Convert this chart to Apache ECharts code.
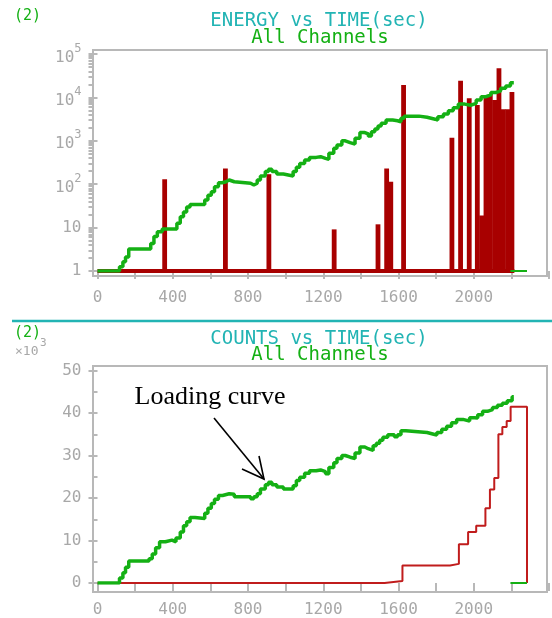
<!DOCTYPE html>
<html>
<head>
<meta charset="utf-8">
<script src="https://cdn.jsdelivr.net/npm/echarts@6/dist/echarts.min.js"></script>
<style>
html,body{margin:0;padding:0;background:#fff;}
#chart{width:552px;height:618px;}
</style>
</head>
<body>
<div id="chart"></div>
<script>
// energy plot: green curve (time, value), log scale
var energyLine = [[0,1],[117,1.26],[135,1.64],[149,2.1],[166,3.2],[283,4.3],[300,6.2],[318,8],[344,9.3],
	[422,12.6],[440,17.8],[457,23],[474,30],[492,34],[570,43],[587,56],[605,67],[622,87],[643,108],[662,114],
	[683,125],[700,114],[727,105],[814,96],[831,105],[849,125],[866,155],[892,195],[909,220],[927,195],
	[953,172],[988,155],[1040,195],[1057,245],[1075,300],[1101,360],[1127,415],[1162,430],[1186,395],
	[1212,375],[1230,515],[1256,670],[1273,800],[1299,1000],[1317,910],[1343,840],[1369,1140],[1395,1550],
	[1421,1440],[1439,1290],[1456,1620],[1474,1870],[1491,2180],[1508,2530],[1534,3000],[1569,2900],
	[1595,2750],[1613,3300],[1630,3700],[1709,3480],[1752,3150],[1795,3000],[1809,3600],[1839,4150],
	[1865,4900],[1891,5800],[1918,7000],[1952,6600],[1983,7300],[2013,8700],[2039,10400],[2065,11400],
	[2091,12900],[2117,14200],[2143,16300],[2170,18300],[2195,21800],[2213,21800]];
var energyTail = [[2195,1],[2283,1]];
var energyBase = [[0,1],[2216,1]];
// energy plot: red bars
var barTimes  = [357, 680, 911, 1258, 1491, 1537, 1559, 1627, 1884, 1930, 1976, 2019, 2042, 2065, 2088, 2111, 2134, 2157, 2180, 2203];
var barValues = [130, 230, 170, 9.1, 11.9, 230, 114, 19300, 1180, 24300, 9500, 6700, 19, 10500, 12000, 8700, 47000, 5300, 5300, 13400];
// log axis: decades and the minor tick factors inside each decade
var energyDecades = [0, 1, 2, 3, 4];
var minorFactors = [2, 3, 4, 5, 6, 7, 8, 9];

// counts plot (x10^3)
var countsLine = [[0,0],[117,1.2],[135,2.4],[149,3.7],[166,5.2],[274,5.7],[291,6.8],[309,8.3],[330,9.7],
	[361,10.1],[396,9.7],[417,10.6],[440,12.0],[457,13.5],[474,14.4],[492,15.4],[518,15.2],[570,16.4],
	[587,17.6],[605,18.7],[622,19.7],[643,20.6],[665,21.0],[700,20.9],[727,20.3],[814,19.8],[831,20.3],
	[849,21.0],[866,22.1],[892,23.1],[909,23.7],[927,23.1],[953,22.6],[988,22.1],[1040,22.9],[1057,24.1],
	[1075,24.9],[1101,25.8],[1127,26.4],[1162,26.6],[1186,26.2],[1212,25.7],[1230,27.2],[1256,28.3],
	[1273,29.3],[1299,30.0],[1317,29.6],[1343,29.3],[1369,30.6],[1395,32.0],[1421,31.6],[1439,31.2],
	[1465,32.3],[1482,32.9],[1500,33.6],[1517,34.3],[1543,34.9],[1578,34.4],[1595,34.9],[1613,35.8],
	[1639,35.4],[1752,35.0],[1787,34.8],[1804,35.4],[1830,36.2],[1856,36.9],[1882,37.7],[1909,38.5],
	[1943,38.1],[1978,38.9],[2004,38.8],[2021,39.6],[2047,40.4],[2073,40.8],[2100,41.3],[2126,41.8],
	[2152,42.3],[2178,42.9],[2204,43.8],[2213,43.8]];
var countsTail = [[2195,0],[2283,0]];
var countsRed = [[0,0],[1526,0.46],[1621,4.1],[1874,4.5],[1921,9.1],[1970,12.0],[2013,13.5],[2062,17.6],
	[2086,22.0],[2109,24.7],[2131,35.0],[2152,36.7],[2175,38.1],[2196,41.5],[2283,0]];

var xTickLabels = [0, 400, 800, 1200, 1600, 2000];

var MONO = 'DejaVu Sans Mono';
var GREY = '#a8a8a8';
var FRAME = '#b8b8b8';
var GREEN = '#14b014';
var CYAN = '#22b4b4';

var logMinorTicks = [];
energyDecades.forEach(function(d){
	minorFactors.forEach(function(f){ logMinorTicks.push(d + Math.log(f) / Math.LN10); });
});

function xAxisFor(grid){
	return {
		gridIndex: grid, type: 'value', min: 0, max: 2400, interval: 200, offset: 5,
		axisLine: {show: false},
		axisTick: {length: 8, lineStyle: {color: FRAME, width: 2}},
		axisLabel: {margin: 14, color: GREY, fontFamily: MONO, fontSize: 16,
			formatter: function(v){ return xTickLabels.indexOf(v) >= 0 ? String(v) : ''; }},
		splitLine: {show: false}
	};
}

var option = {
	animation: false,
	grid: [
		{left: 93, right: 5, top: 50, bottom: 342, show: true, borderColor: FRAME, borderWidth: 2},
		{left: 93, right: 5, top: 366, bottom: 26, show: true, borderColor: FRAME, borderWidth: 2},
		{left: 97.5, width: 459.6, top: 54, height: 217},
		{left: 97.5, width: 459.6, top: 370.5, height: 216.5}
	],
	xAxis: [
		{gridIndex: 0, show: false, min: 0, max: 1},
		{gridIndex: 1, show: false, min: 0, max: 1},
		xAxisFor(2),
		xAxisFor(3)
	],
	yAxis: [
		{gridIndex: 0, show: false, min: 0, max: 1},
		{gridIndex: 1, show: false, min: 0, max: 1},
		{
			gridIndex: 2, type: 'log', logBase: 10, min: 1, max: 100000, offset: 4, position: 'left',
			axisLine: {show: false},
			axisTick: {show: true, length: 9, lineStyle: {color: FRAME, width: 2}},
			splitLine: {show: false},
			axisLabel: {
				margin: 12, color: GREY, fontFamily: MONO, fontSize: 16,
				formatter: function(v){
					var e = Math.round(Math.log(v) / Math.LN10);
					if (e === 0) return '1';
					if (e === 1) return '10';
					return '{b|10}{s|' + e + '}';
				},
				rich: {
					b: {color: GREY, fontFamily: MONO, fontSize: 16, padding: [7, 0, 0, 0]},
					s: {color: GREY, fontFamily: MONO, fontSize: 12, verticalAlign: 'top'}
				}
			}
		},
		{
			gridIndex: 3, type: 'value', min: 0, max: 50, interval: 10, offset: 4,
			axisLine: {show: false},
			axisTick: {show: true, length: 9, lineStyle: {color: FRAME, width: 2}},
			minorTick: {show: true, splitNumber: 2, length: 5, lineStyle: {color: FRAME, width: 2}},
			splitLine: {show: false},
			axisLabel: {margin: 12, color: GREY, fontFamily: MONO, fontSize: 16}
		},
		{
			// minor ticks of the log axis, in decade units
			gridIndex: 2, type: 'value', min: 0, max: 5, offset: 4, position: 'left',
			axisLine: {show: false},
			axisLabel: {show: false},
			splitLine: {show: false},
			axisTick: {show: true, length: 5, customValues: logMinorTicks, lineStyle: {color: FRAME, width: 2}}
		}
	],
	series: [
		{
			type: 'bar', xAxisIndex: 2, yAxisIndex: 2, barWidth: 4.8, z: 2,
			itemStyle: {color: '#a80000'},
			data: barTimes.map(function(t, i){ return [t, barValues[i]]; })
		},
		{type: 'line', xAxisIndex: 2, yAxisIndex: 2, symbol: 'none', z: 3,
			lineStyle: {color: '#a80000', width: 4}, data: energyBase},
		{type: 'line', xAxisIndex: 2, yAxisIndex: 2, symbol: 'none', step: 'end', z: 4,
			lineStyle: {color: GREEN, width: 3.5}, data: energyLine},
		{type: 'line', xAxisIndex: 2, yAxisIndex: 2, symbol: 'none', z: 4,
			lineStyle: {color: GREEN, width: 2}, data: energyTail},
		{type: 'line', xAxisIndex: 3, yAxisIndex: 3, symbol: 'none', step: 'end', z: 3,
			lineStyle: {color: '#c01c1c', width: 2}, data: countsRed},
		{type: 'line', xAxisIndex: 3, yAxisIndex: 3, symbol: 'none', step: 'end', z: 4,
			lineStyle: {color: GREEN, width: 3.5}, data: countsLine},
		{type: 'line', xAxisIndex: 3, yAxisIndex: 3, symbol: 'none', z: 4,
			lineStyle: {color: GREEN, width: 2}, data: countsTail}
	],
	graphic: [
		{type: 'line', shape: {x1: 12, y1: 321, x2: 552, y2: 321}, style: {stroke: CYAN, lineWidth: 2.5}},
		{type: 'text', x: 14, y: 16, style: {text: '(2)', fill: GREEN, font: '15px ' + MONO, verticalAlign: 'middle'}},
		{type: 'text', x: 319, y: 21, style: {text: 'ENERGY vs TIME(sec)', fill: CYAN, font: '19px ' + MONO, align: 'center', verticalAlign: 'middle'}},
		{type: 'text', x: 320, y: 38, style: {text: 'All Channels', fill: GREEN, font: '19px ' + MONO, align: 'center', verticalAlign: 'middle'}},
		{type: 'text', x: 14, y: 333, style: {text: '(2)', fill: GREEN, font: '15px ' + MONO, verticalAlign: 'middle'}},
		{type: 'text', x: 319, y: 339, style: {text: 'COUNTS vs TIME(sec)', fill: CYAN, font: '19px ' + MONO, align: 'center', verticalAlign: 'middle'}},
		{type: 'text', x: 320, y: 355, style: {text: 'All Channels', fill: GREEN, font: '19px ' + MONO, align: 'center', verticalAlign: 'middle'}},
		{type: 'text', x: 15, y: 352, style: {text: '×10', fill: GREY, font: '13px ' + MONO, verticalAlign: 'middle'}},
		{type: 'text', x: 40, y: 343, style: {text: '3', fill: GREY, font: '11px ' + MONO, verticalAlign: 'middle'}},
		{type: 'text', x: 210, y: 397, style: {text: 'Loading curve', fill: '#000', font: '26px "Liberation Serif"', align: 'center', verticalAlign: 'middle'}},
		{type: 'polyline', shape: {points: [[214, 418], [264, 479]]}, style: {stroke: '#000', lineWidth: 1.6}},
		{type: 'polyline', shape: {points: [[242, 469], [264, 479], [259, 456]]}, style: {stroke: '#000', lineWidth: 1.6, fill: null}}
	]
};

var chart = echarts.init(document.getElementById('chart'));
chart.setOption(option);
</script>
</body>
</html>
